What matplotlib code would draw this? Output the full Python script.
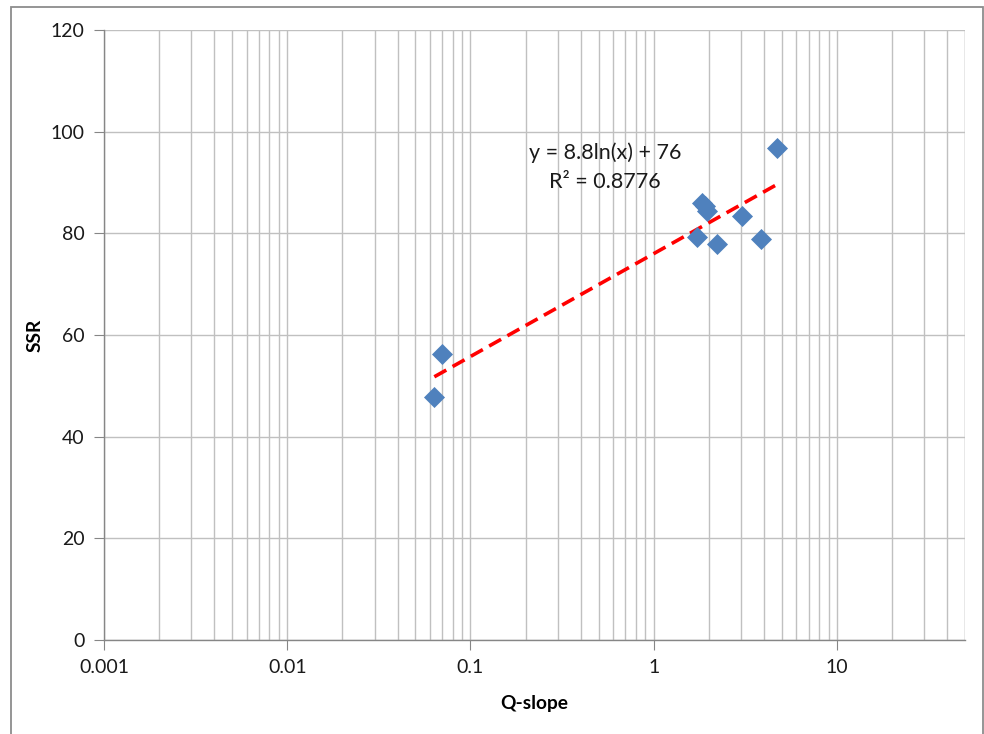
import numpy as np
import matplotlib
matplotlib.use("Agg")
import matplotlib.pyplot as plt
from matplotlib.ticker import LogLocator, FixedLocator, NullFormatter
from matplotlib.patches import Rectangle

q_slope = [0.0703, 0.0635, 1.72, 1.83, 1.90, 1.96, 2.21, 3.03, 3.84, 4.70]
ssr = [56.3, 47.8, 79.3, 86.0, 85.4, 84.4, 77.9, 83.4, 78.9, 96.8]
x_ticks = [0.001, 0.01, 0.1, 1, 10]
x_tick_labels = ["0.001", "0.01", "0.1", "1", "10"]
y_ticks = [0, 20, 40, 60, 80, 100, 120]
eq_text = "y = 8.8ln(x) + 76"
r2_text = "R² = 0.8776"

plt.rcParams['font.family'] = ['Lato', 'DejaVu Sans']

fig = plt.figure(figsize=(9.84, 7.34), dpi=100)
W, H = 984, 734
ax = fig.add_axes([104 / W, (H - 640) / H, (965 - 104) / W, (640 - 30) / H])

# figure border
fig.patches.append(Rectangle((11 / W, -0.01), (983 - 11) / W, (H - 7) / H + 0.01,
                             transform=fig.transFigure, fill=False,
                             edgecolor='#8c8c8c', linewidth=1.3))

ax.set_xscale('log')
ax.set_xlim(0.001, 50)
ax.set_ylim(0, 120)

grid_c = '#c0c0c0'
ax.xaxis.set_major_locator(FixedLocator(x_ticks))
ax.set_xticklabels(x_tick_labels)
ax.xaxis.set_minor_locator(LogLocator(base=10, subs=np.arange(2, 10), numticks=20))
ax.xaxis.set_minor_formatter(NullFormatter())
ax.set_yticks(y_ticks)
ax.grid(True, which='both', axis='x', color=grid_c, linewidth=1)
ax.grid(True, which='major', axis='y', color=grid_c, linewidth=1)
ax.set_axisbelow(True)
ax.tick_params(axis='x', which='minor', length=0)
ax.tick_params(axis='both', which='major', length=7, color='#868686',
               labelsize=14, labelcolor='#1a1a1a', direction='out', pad=7)
for s in ['top', 'right']:
    ax.spines[s].set_visible(False)
for s in ['left', 'bottom']:
    ax.spines[s].set_color('#868686')
    ax.spines[s].set_linewidth(1)
# gridline at right edge (x=50)
ax.axvline(50, color=grid_c, linewidth=1, zorder=0.5)

# trendline fitted to data
lx = np.log(np.array(q_slope))
a, b = np.polyfit(lx, np.array(ssr), 1)
xs = np.logspace(np.log10(min(q_slope)), np.log10(max(q_slope)), 100)
ax.plot(xs, a * np.log(xs) + b, color='#ff0000', linewidth=2.6,
        linestyle=(0, (3.8, 2)), zorder=3)

ax.scatter(q_slope, ssr, marker='D', s=115, color='#4f81bd', zorder=4,
           linewidths=0)

ax.annotate(eq_text, xy=(605 / W, (H - 153) / H), xycoords='figure fraction',
            ha='center', va='center', fontsize=15.5, color='#1a1a1a')
ax.annotate(r2_text, xy=(605 / W, (H - 182) / H), xycoords='figure fraction',
            ha='center', va='center', fontsize=15.5, color='#1a1a1a')

ax.set_xlabel('Q-slope', fontsize=13.8, fontweight='bold', labelpad=13)
ax.set_ylabel('SSR', fontsize=13.8, fontweight='bold', labelpad=5)

fig.savefig('out.png', dpi=100)
